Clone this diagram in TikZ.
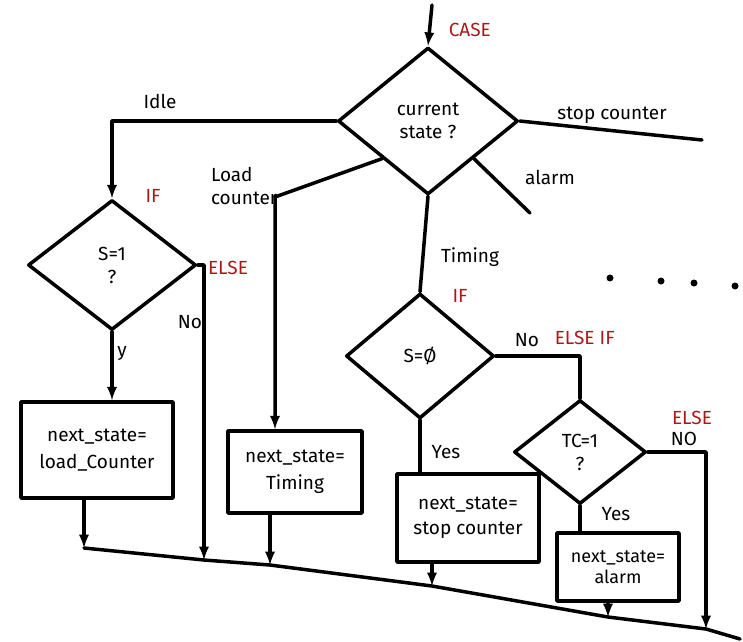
\documentclass[tikz,border=0pt]{standalone}
\usepackage{fontspec}
\setmainfont{Fira Sans}
\usepackage{tikz}
\usetikzlibrary{arrows}
\usetikzlibrary{shapes.geometric}
\usetikzlibrary{calc}
\usetikzlibrary{positioning}

\definecolor{caseRed}{RGB}{170,25,25}
\newcommand{\handfont}{\fontsize{19}{23}\selectfont}

\begin{document}
\begin{tikzpicture}[x=1pt,y=-1pt,
    line width=3.5pt, line cap=round, line join=round,
    every node/.style={font=\handfont, inner sep=1pt},
    decision/.style={diamond, draw, line width=3.5pt, align=center, inner sep=0pt},
    action/.style={rectangle, draw, line width=3.5pt, align=center, inner sep=2pt},
    kw/.style={text=caseRed},
    arr/.style={-latex}]
        \useasboundingbox (0,0) rectangle (743,641);

        % Decisions
        \node[decision, minimum width=180pt, minimum height=147pt] (cs) at (428,121) {current\\state ?};
        \node[decision, minimum width=168pt, minimum height=130pt] (s1) at (112,265) {S=1\\?};
        \node[decision, minimum width=148pt, minimum height=125pt] (s0) at (420,356) {S=Ø};
        \node[decision, minimum width=132pt, minimum height=104pt] (tc) at (580,452) {TC=1\\?};

        % Actions
        \node[action, minimum width=152pt, minimum height=96pt] (nsLoad) at (97,450) {next\_state=\\[4pt]load\_Counter};
        \node[action, minimum width=134pt, minimum height=82pt] (nsTiming) at (295,472) {next\_state=\\[4pt]Timing};
        \node[action, minimum width=142pt, minimum height=88pt] (nsStop) at (468,518) {next\_state=\\[2pt]stop counter};
        \node[action, minimum width=122pt, minimum height=68pt, font=\fontsize{18}{21}\selectfont] (nsAlarm) at (618,567) {next\_state=\\alarm};

        % Bus points
        \coordinate (start) at (432,5);
        \coordinate (lc) at (275,197);
        \coordinate (alarmEnd) at (530,213);
        \coordinate (stopEnd) at (702,140);
        \coordinate (j1) at (84,548);
        \coordinate (j2) at (204,560);
        \coordinate (j3) at (270,565);
        \coordinate (j4) at (432,586);
        \coordinate (j5) at (608,617);
        \coordinate (j6) at (706,629);
        \coordinate (busEnd) at (740,639);

        % Bus
        \draw (j1) -- (j2) -- (j3) -- (j4) -- (j5) -- (j6) -- (busEnd);

        % Case branches
        \draw[arr] (start) -- (cs.north);
        \draw[arr] (cs.west) -| (s1.north);
        \draw[arr] (cs.south west) -- (lc) -- (lc |- nsTiming.north);
        \draw (cs.south) -- (s0.north);
        \draw (cs.south east) -- (alarmEnd);
        \draw (cs.east) -- (stopEnd);

        % If / else
        \draw[arr] (s1.south) -- (s1.south |- nsLoad.north);
        \draw[arr] (s1.east) -| (j2);
        \draw (s0.south) -- (s0.south |- nsStop.north);
        \draw (s0.east) -| (tc.north);
        \draw (tc.south) -- (tc.south |- nsAlarm.north);
        \draw[arr] (tc.east) -| (j6);

        % Into the bus
        \draw[arr] (nsLoad.south -| j1) -- (j1);
        \draw[arr] (nsTiming.south -| j3) -- (j3);
        \draw[arr] (nsStop.south -| j4) -- (j4);
        \draw[arr] (nsAlarm.south -| j5) -- (j5);

        % Labels
        \node[kw, anchor=west] (lCase) at (446,30) {CASE};
        \node (lIdle) at (160,101) {Idle};
        \node[anchor=east, align=left] (lLoad) at (280,186) {Load\\counter};
        \node (lTiming) at (470,257) {Timing};
        \node (lAlarm) at (550,177) {alarm};
        \node (lStop) at (612,115) {stop counter};
        \node[kw] (lIf1) at (153,196) {IF};
        \node[kw] (lElse1) at (228,268) {ELSE};
        \node (lNo1) at (190,322) {No};
        \node (lY) at (122,354) {y};
        \node[kw] (lIf2) at (460,296) {IF};
        \node (lNo2) at (527,340) {No};
        \node[kw, anchor=west] (lElseIf) at (552,338) {ELSE IF};
        \node (lYes1) at (446,452) {Yes};
        \node[kw, inner sep=0pt] (lElse2) at (692,418) {ELSE};
        \node[inner sep=0pt] (lNo3) at (684,439) {NO};
        \node (lYes2) at (616,514) {Yes};

        % More cases
        \foreach \dx/\dy in {610/278, 661/281, 694/283, 735/286}
            \fill (\dx,\dy) circle (3.5pt);
      \end{tikzpicture}
\end{document}
